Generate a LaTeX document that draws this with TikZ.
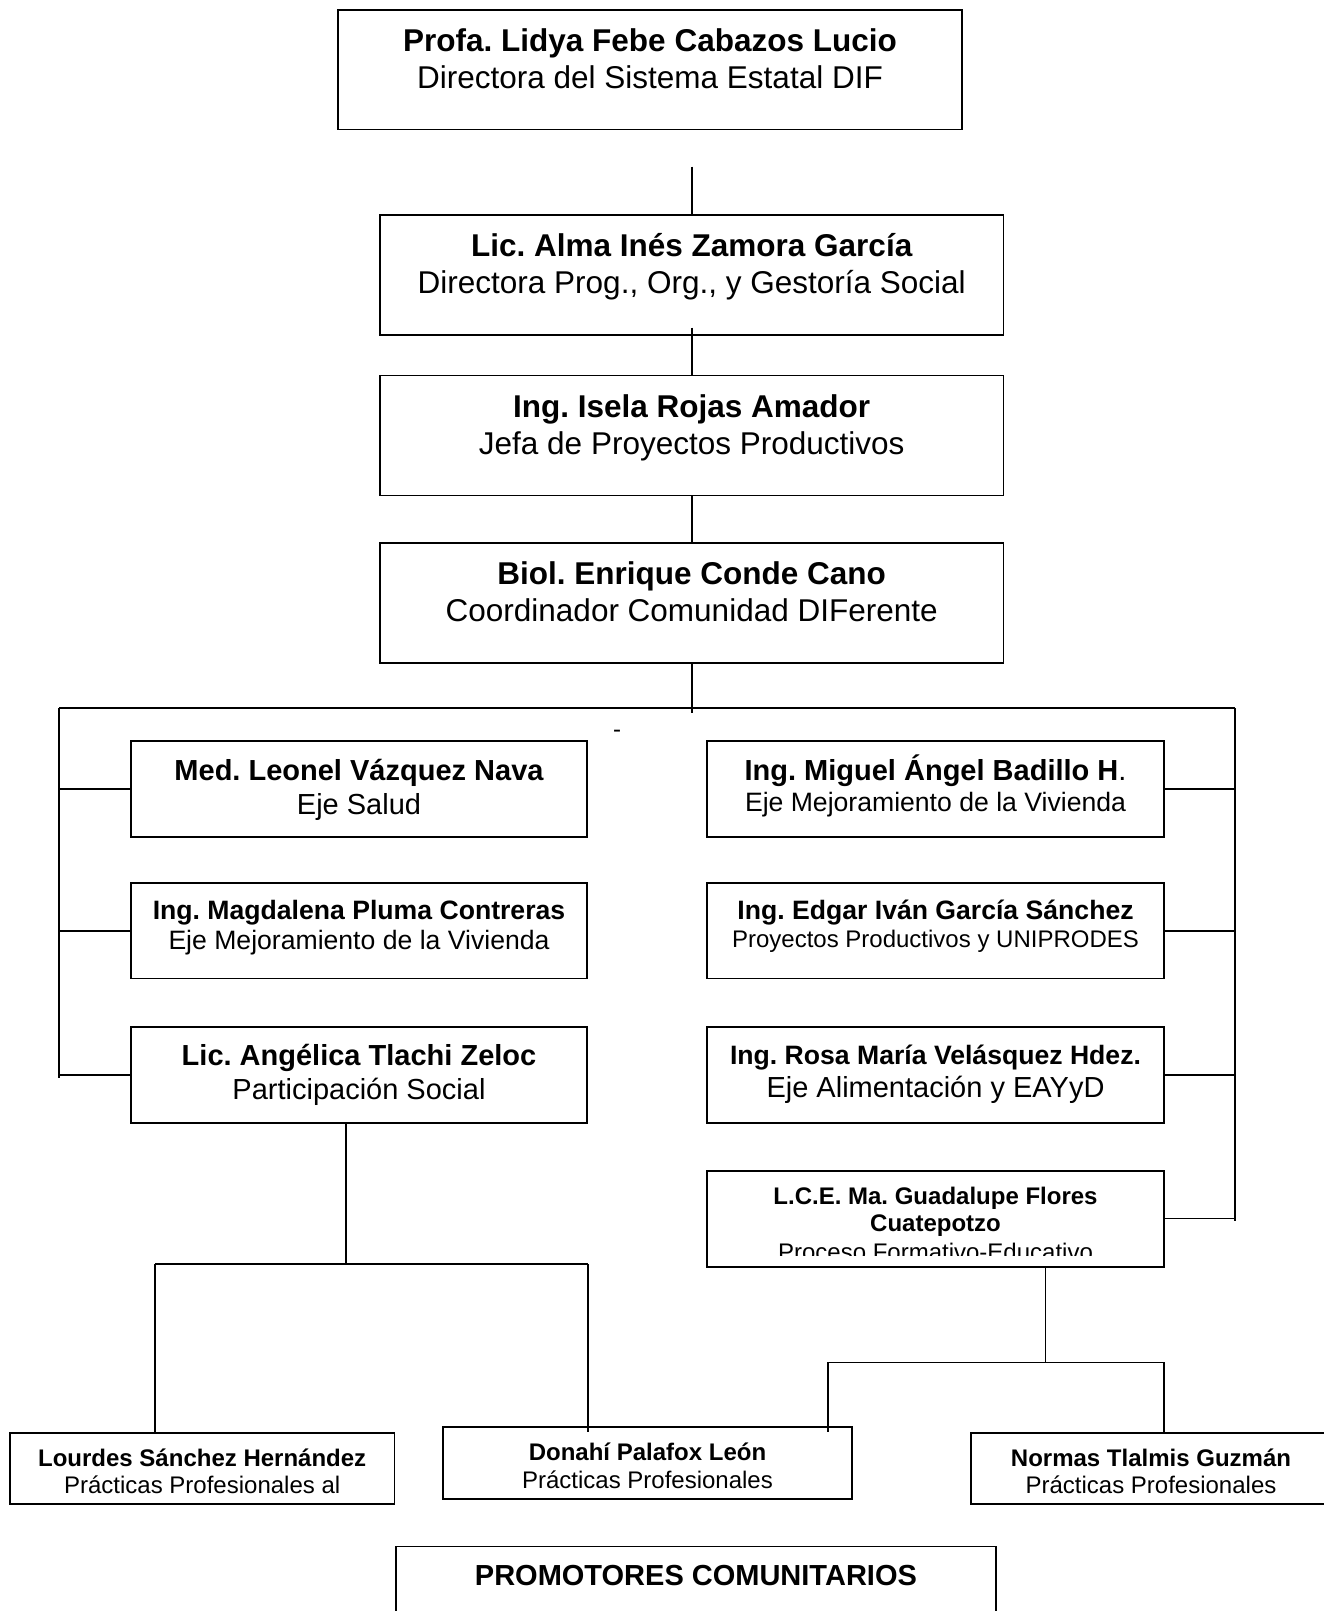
\documentclass[tikz,border=0pt]{standalone}
\usepackage{fontspec}
\setmainfont{Liberation Sans}
\usetikzlibrary{calc}
\frenchspacing
\newcommand\sizeL{\fontsize{31.5}{37}\selectfont}
\newcommand\sizeM{\fontsize{29}{34}\selectfont}
\newcommand\sizeS{\fontsize{26.6}{31}\selectfont}
\newcommand\sizeT{\fontsize{24}{28}\selectfont}
\tikzset{
  orgbox/.style={draw, line width=1.8pt, inner sep=0pt, rectangle},
  txt/.style={anchor=base, inner sep=0pt, execute at begin node=\frenchspacing},
  conn/.style={line width=1.6pt}
}
\begin{document}
\begin{tikzpicture}[x=1pt,y=-1pt]
\useasboundingbox (0,0) rectangle (1324,1611);
% boxes
\node[orgbox, minimum width=624pt, minimum height=119.5pt] (b1) at (650,69.75) {};
\node[orgbox, minimum width=623.4pt, minimum height=120pt] (b2) at (691.7,274.75) {};
\node[orgbox, minimum width=623.4pt, minimum height=120pt] (b3) at (691.7,435.45) {};
\node[orgbox, minimum width=623.4pt, minimum height=119.7pt] (b4) at (691.7,603.15) {};
\node[orgbox, minimum width=456pt, minimum height=96pt] (l1) at (359,789) {};
\node[orgbox, minimum width=456pt, minimum height=95.5pt] (l2) at (359,930.75) {};
\node[orgbox, minimum width=456pt, minimum height=96pt] (l3) at (359,1075) {};
\node[orgbox, minimum width=457pt, minimum height=96pt] (r1) at (935.5,789) {};
\node[orgbox, minimum width=457pt, minimum height=95.5pt] (r2) at (935.5,930.75) {};
\node[orgbox, minimum width=457pt, minimum height=96pt] (r3) at (935.5,1075) {};
\node[orgbox, minimum width=457pt, minimum height=96pt] (r4) at (935.5,1218.65) {};
\node[orgbox, minimum width=384.4pt, minimum height=71.6pt] (bo1) at (202.2,1468.5) {};
\node[orgbox, minimum width=409pt, minimum height=72.3pt] (bo2) at (647.5,1462.85) {};
\node[orgbox, minimum width=360pt, minimum height=71.6pt] (bo3) at (1151,1468.5) {};
\node[orgbox, minimum width=599.8pt, minimum height=113pt] (pr) at (695.9,1603) {};
% texts
\node[txt] (t1a) at (650,51.5) {\sizeL\bfseries Profa. Lidya Febe Cabazos Lucio};
\node[txt] (t1b) at (650,88.5) {\sizeL Directora del Sistema Estatal DIF};
\node[txt] (t2a) at (691.7,256) {\sizeL\bfseries Lic. Alma Inés Zamora García};
\node[txt] (t2b) at (691.7,293.5) {\sizeL Directora Prog., Org., y Gestoría Social};
\node[txt] (t3a) at (691.7,417.5) {\sizeL\bfseries Ing. Isela Rojas Amador};
\node[txt] (t3b) at (691.7,454.5) {\sizeL Jefa de Proyectos Productivos};
\node[txt] (t4a) at (691.7,584) {\sizeL\bfseries Biol. Enrique Conde Cano};
\node[txt] (t4b) at (691.7,621) {\sizeL Coordinador Comunidad DIFerente};
\node[txt] (dash) at (617,737) {\sizeT -};
\node[txt] (tl1a) at (359,780.5) {\sizeM\bfseries Med. Leonel Vázquez Nava};
\node[txt] (tl1b) at (359,814) {\sizeM Eje Salud};
\node[txt] (tl2a) at (359,919) {\sizeS\bfseries Ing. Magdalena Pluma Contreras};
\node[txt] (tl2b) at (359,949.5) {\sizeS Eje Mejoramiento de la Vivienda};
\node[txt] (tl3a) at (359,1065.5) {\sizeM\bfseries Lic. Angélica Tlachi Zeloc};
\node[txt] (tl3b) at (359,1099) {\sizeM Participación Social};
\node[txt] (tr1a) at (935.5,780.5) {\sizeM\bfseries Ing. Miguel Ángel Badillo H\mdseries.};
\node[txt] (tr1b) at (935.5,811) {\sizeS Eje Mejoramiento de la Vivienda};
\node[txt] (tr2a) at (935.5,919) {\sizeS\bfseries Ing. Edgar Iván García Sánchez};
\node[txt] (tr2b) at (935.5,947) {\sizeT Proyectos Productivos y UNIPRODES};
\node[txt] (tr3a) at (935.5,1064) {\sizeS\bfseries Ing. Rosa María Velásquez Hdez.};
\node[txt] (tr3b) at (935.5,1097) {\sizeM Eje Alimentación y EAYyD};
\begin{scope}
\clip (707,1172) rectangle (1164,1255);
\node[txt] (tr4a) at (935.5,1204) {\sizeT\bfseries L.C.E. Ma. Guadalupe Flores};
\node[txt] (tr4b) at (935.5,1231.5) {\sizeT\bfseries Cuatepotzo};
\node[txt] (tr4c) at (935.5,1260) {\sizeT Proceso Formativo-Educativo};
\end{scope}
\node[txt] (tb1a) at (202.2,1466.5) {\sizeT\bfseries Lourdes Sánchez Hernández};
\node[txt] (tb1b) at (202.2,1493.6) {\sizeT Prácticas Profesionales al};
\node[txt] (tb2a) at (647.5,1460.6) {\sizeT\bfseries Donahí Palafox León};
\node[txt] (tb2b) at (647.5,1488.6) {\sizeT Prácticas Profesionales};
\node[txt] (tb3a) at (1151,1466.5) {\sizeT\bfseries Normas Tlalmis Guzmán};
\node[txt] (tb3b) at (1151,1493.6) {\sizeT Prácticas Profesionales};
\node[txt] (tpr) at (695.9,1585.5) {\sizeM\bfseries PROMOTORES COMUNITARIOS};
% connectors
\coordinate (c12) at (691.7,166.5);
\draw[conn] (c12) -- (b2.north);
\draw[conn] ($(b2.south)+(0,-8)$) -- (b3.north);
\draw[conn] (b3.south) -- (b4.north);
\draw[conn] (b4.south) -- ++(0,49.5);
\coordinate (barL) at (59,708);
\coordinate (barR) at (1235,708);
\coordinate (barLend) at (59,1078);
\coordinate (barRend) at (1235,1221);
\draw[conn] (barL) -- (barR);
\draw[conn] (barL) -- (barLend);
\draw[conn] (barR) -- (barRend);
\draw[conn] (l1.west) -- (l1.west -| barL);
\draw[conn] (l2.west) -- (l2.west -| barL);
\draw[conn] (l3.west) -- (l3.west -| barL);
\draw[conn] (r1.east) -- (r1.east -| barR);
\draw[conn] (r2.east) -- (r2.east -| barR);
\draw[conn] (r3.east) -- (r3.east -| barR);
\draw[conn] (r4.east) -- (r4.east -| barR);
% left sub-branch
\coordinate (lb1) at (155,1264);
\coordinate (lb2) at (588,1264);
\draw[conn] ($(l3.south)+(-13,0)$) -- ++(0,141);
\draw[conn] (lb1) -- (lb2);
\draw[conn] (lb1) -- (bo1.north -| lb1);
\draw[conn] (lb2) -- ($(bo2.north -| lb2)+(0,6)$);
% right sub-branch
\coordinate (rb1) at (828,1362.3);
\coordinate (rb2) at (1164,1362.3);
\draw[conn] ($(r4.south)+(110.1,0)$) -- ++(0,95.6);
\draw[conn] (rb1) -- (rb2);
\draw[conn] (rb1) -- ($(bo2.north -| rb1)+(0,6)$);
\draw[conn] (rb2) -- (bo3.north -| rb2);
\end{tikzpicture}
\end{document}
